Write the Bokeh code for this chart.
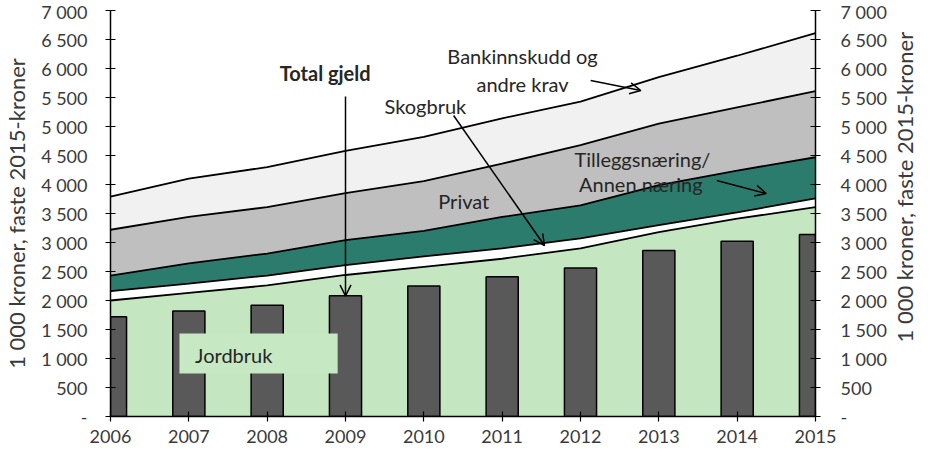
import math
from bokeh.plotting import figure
from bokeh.layouts import row
from bokeh.models import (ColumnDataSource, LinearAxis, Range1d, FixedTicker,
                          Arrow, OpenHead, Label, BoxAnnotation)
from bokeh.embed import file_html
from bokeh.resources import INLINE

# ---- data (1 000 kroner, faste 2015-kroner) ----
years = [2006, 2007, 2008, 2009, 2010, 2011, 2012, 2013, 2014, 2015]
jordbruk = [2000, 2130, 2260, 2440, 2580, 2720, 2900, 3180, 3410, 3610]
skogbruk = [160, 160, 170, 170, 180, 180, 170, 120, 110, 150]
tilleggsnaering = [270, 350, 380, 430, 440, 540, 570, 690, 720, 710]
privat = [790, 800, 800, 810, 860, 920, 1040, 1060, 1090, 1140]
bankinnskudd = [570, 660, 690, 730, 760, 780, 750, 800, 890, 1000]
total_gjeld = [1720, 1820, 1920, 2080, 2250, 2410, 2560, 2860, 3020, 3140]

y_ticks = [0, 500, 1000, 1500, 2000, 2500, 3000, 3500, 4000, 4500, 5000, 5500, 6000, 6500, 7000]
y_tick_labels = ["-", "500", "1 000", "1 500", "2 000", "2 500", "3 000", "3 500",
                 "4 000", "4 500", "5 000", "5 500", "6 000", "6 500", "7 000"]
y_title = "1 000 kroner, faste 2015-kroner"

FONT = "Lato"
TXT = "#3a3a3a"

src = ColumnDataSource(dict(year=years, jordbruk=jordbruk, skogbruk=skogbruk,
                            tillegg=tilleggsnaering, privat=privat, bank=bankinnskudd,
                            total=total_gjeld))

W, H = 890, 445
p = figure(width=W, height=H, x_range=Range1d(2006, 2015), y_range=Range1d(0, 7000),
           output_backend="svg", toolbar_location=None,
           min_border_left=102, min_border_right=75, min_border_top=10, min_border_bottom=5)
p.outline_line_color = None
p.xgrid.visible = False
p.ygrid.visible = False
p.background_fill_color = "white"

stack = ["jordbruk", "skogbruk", "tillegg", "privat", "bank"]
colors = ["#c4e6c0", "#ffffff", "#2c7c6d", "#bfbfbf", "#f1f1f1"]
p.varea_stack(stack, x="year", color=colors, source=src)
p.vbar(x="year", top="total", width=0.41, fill_color="#595959", line_color="black",
       line_width=1.5, source=src)
p.vline_stack(stack, x="year", color="black", line_width=1.8, source=src)

overrides = {t: l for t, l in zip(y_ticks, y_tick_labels)}


def style_axis(ax):
    ax.axis_line_color = "black"
    ax.axis_line_width = 1.5
    ax.major_tick_line_color = "black"
    ax.major_tick_line_width = 1.2
    ax.major_tick_in = 5
    ax.major_tick_out = 5
    ax.minor_tick_line_color = None
    ax.major_label_text_font = FONT
    ax.major_label_text_font_size = "18px"
    ax.major_label_text_color = TXT
    ax.axis_label_text_font = FONT
    ax.axis_label_text_font_size = "22px"
    ax.axis_label_text_font_style = "normal"
    ax.axis_label_text_color = TXT


ly = p.yaxis[0]
ly.ticker = FixedTicker(ticks=y_ticks)
ly.major_label_overrides = overrides
ly.axis_label = y_title
style_axis(ly)
ly.major_label_standoff = 18
ly.axis_label_standoff = 8

ry = LinearAxis(ticker=FixedTicker(ticks=y_ticks), major_label_overrides=overrides)
style_axis(ry)
ry.major_label_standoff = 20
p.add_layout(ry, "right")

bx = p.xaxis[0]
bx.ticker = FixedTicker(ticks=years)
style_axis(bx)
bx.major_label_standoff = 8


def lab(x, y, t, size="20px", align="center", style="normal"):
    p.add_layout(Label(x=x, y=y, text=t, text_font=FONT, text_font_size=size,
                       text_font_style=style,
                       text_color="#262626", text_align=align, text_baseline="middle"))


def arrow(x0, y0, x1, y1):
    p.add_layout(Arrow(end=OpenHead(size=11, line_width=1.5, line_color="black"),
                       x_start=x0, y_start=y0, x_end=x1, y_end=y1,
                       line_width=1.5, line_color="black"))


# Jordbruk box
p.add_layout(BoxAnnotation(left=2006.88, right=2008.90, bottom=741, top=1431,
                           fill_color="#c6e8c3", fill_alpha=1.0, line_color=None))
lab(2007.08, 1060, "Jordbruk", align="left")

lab(2008.74, 5914, "Total gjeld", style="bold")
arrow(2009.0, 5517, 2009.0, total_gjeld[3])

lab(2011.26, 6207, "Bankinnskudd og")
lab(2011.26, 5741, "andre krav")
arrow(2012.13, 5793, 2012.77, 5621)

lab(2010.02, 5345, "Skogbruk")
arrow(2010.38, 5190, 2011.54, 2948)

lab(2010.51, 3707, "Privat")

lab(2012.79, 4448, "Tilleggsnæring/")
lab(2012.77, 4017, "Annen næring")
arrow(2013.74, 4069, 2014.37, 3845)

# narrow strip on the right holding the right-hand axis title (reads bottom-to-top)
p2 = figure(width=27, height=H, x_range=Range1d(0, 1), y_range=Range1d(0, 1),
            output_backend="svg", toolbar_location=None, min_border=0)
p2.axis.visible = False
p2.grid.visible = False
p2.outline_line_color = None
p2.add_layout(Label(x=0.5, y=0.565, text=y_title, angle=math.pi / 2,
                    text_font=FONT, text_font_size="22px", text_color=TXT,
                    text_align="center", text_baseline="middle"))

open("out.html", "w").write(file_html(row(p, p2), INLINE))
